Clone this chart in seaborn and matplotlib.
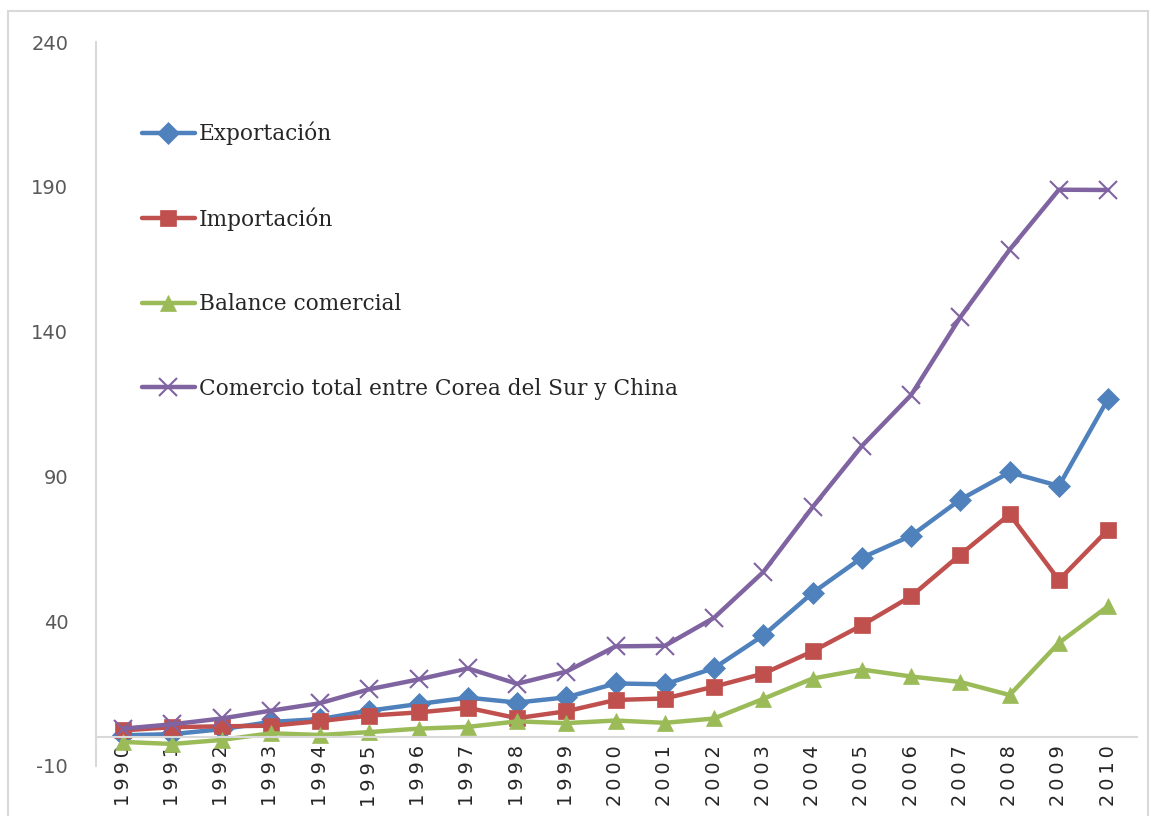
import numpy as np
import pandas as pd
import matplotlib
matplotlib.use("Agg")
import matplotlib.pyplot as plt
import seaborn as sns
from matplotlib.patches import Rectangle

# ---------------------------------------------------------------------------
# Data (miles de millones USD)
# ---------------------------------------------------------------------------
years = list(range(1990, 2011))
exportacion = [0.6, 1.0, 2.7, 5.2, 6.2, 9.1, 11.4, 13.6, 11.9, 13.7, 18.5,
               18.2, 23.8, 35.1, 49.8, 61.9, 69.5, 82.0, 91.4, 86.7, 116.8]
importacion = [2.3, 3.4, 3.7, 3.9, 5.5, 7.4, 8.5, 10.1, 6.5, 8.9, 12.8,
               13.3, 17.4, 21.9, 29.6, 38.6, 48.6, 63.0, 76.9, 54.2, 71.6]
balance = [-1.7, -2.4, -1.0, 1.3, 0.7, 1.7, 2.9, 3.5, 5.4, 4.8, 5.7,
           4.9, 6.4, 13.2, 20.2, 23.3, 20.9, 19.0, 14.5, 32.5, 45.2]
total = [2.9, 4.4, 6.4, 9.1, 11.7, 16.5, 19.9, 23.7, 18.4, 22.6, 31.3,
         31.5, 41.2, 57.0, 79.4, 100.5, 118.1, 145.0, 168.3, 189.0, 188.9]
y_ticks = [-10, 40, 90, 140, 190, 240]

series = [
    ("Exportación", exportacion, "#4F81BD", "D", 11),
    ("Importación", importacion, "#C0504D", "s", 11),
    ("Balance comercial", balance, "#9BBB59", "^", 12),
    ("Comercio total entre Corea del Sur y China", total, "#8064A2", "x", 13),
]

# ---------------------------------------------------------------------------
# Plot
# ---------------------------------------------------------------------------
sns.set_style("white")
plt.rcParams["font.family"] = ["DejaVu Sans"]

fig = plt.figure(figsize=(11.51, 8.16), dpi=100)
ax = fig.add_axes([0.0834, 0.0613, 0.9046, 0.8872])

x_idx = np.arange(len(years))
for name, vals, color, marker, ms in series:
    sns.lineplot(x=x_idx, y=vals, ax=ax, color=color, marker=marker,
                 markersize=ms, markeredgecolor=color,
                 markeredgewidth=1.5 if marker == "x" else 0.5,
                 linewidth=3.2, label=name)

# axis line crosses at zero (do this before tick labels: it resets ticks)
for side in ["top", "right"]:
    ax.spines[side].set_visible(False)
ax.spines["bottom"].set_position(("data", 0))
ax.spines["bottom"].set_color("#d9d9d9")
ax.spines["bottom"].set_linewidth(1.5)
ax.spines["left"].set_color("#d9d9d9")
ax.spines["left"].set_linewidth(1.5)

ax.set_xlim(-0.55, 20.59)
ax.set_ylim(-10, 240)
ax.set_yticks(y_ticks)
ax.set_yticklabels([str(t) for t in y_ticks], color="#595959", fontsize=14)
ax.set_xticks(x_idx)
# letter-spaced year labels, as in the original
ax.set_xticklabels(["\u2009".join(str(y)) for y in years], rotation=90,
                   fontsize=14, color="#262626")
ax.tick_params(axis="y", length=0, pad=20)
ax.tick_params(axis="x", length=0, pad=6)

leg = ax.legend(loc="upper left", bbox_to_anchor=(0.025, 0.917), frameon=False,
                prop={"family": "DejaVu Serif", "size": 15.6},
                handlelength=2.45, handletextpad=0.2, labelspacing=2.88)

# light frame around the whole chart
fig.patches.append(Rectangle((0.007, -0.02), 0.99, 1.0065, transform=fig.transFigure,
                             fill=False, edgecolor="#d9d9d9", linewidth=1.5))

fig.savefig("out.png", dpi=100)
